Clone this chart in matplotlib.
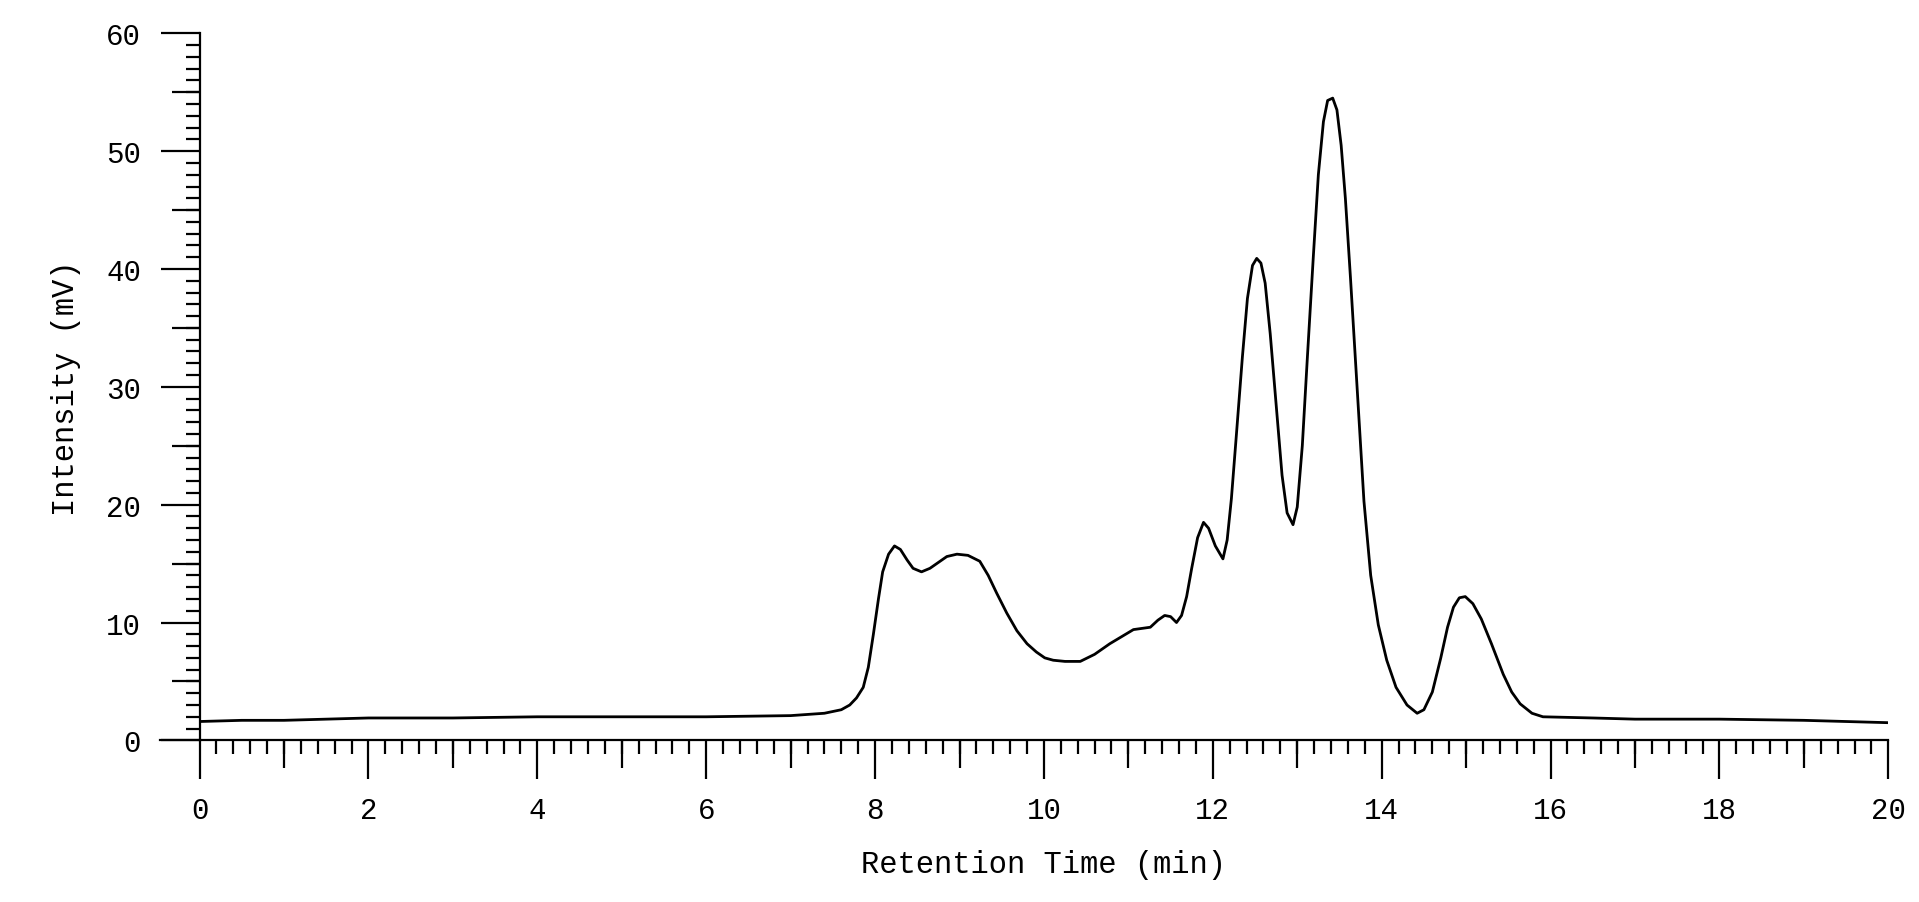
import matplotlib.pyplot as plt
from matplotlib.ticker import MultipleLocator, FixedLocator

# Chromatogram trace (min, mV)
time_min = [
    0.0, 0.5, 1.0, 1.5, 2.0, 3.0, 4.0, 5.0, 6.0, 7.0, 7.4, 7.6, 7.7, 7.78,
    7.86, 7.92, 7.98, 8.04, 8.09, 8.16, 8.23, 8.3, 8.38, 8.45, 8.55, 8.65,
    8.75, 8.85, 8.97, 9.1, 9.24, 9.34, 9.44, 9.56, 9.68, 9.8, 9.91, 10.01,
    10.11, 10.25, 10.43, 10.6, 10.78, 10.92, 11.06, 11.26, 11.35, 11.43,
    11.5, 11.57, 11.63, 11.69, 11.75, 11.82, 11.89, 11.95, 12.03, 12.12,
    12.17, 12.22, 12.28, 12.35, 12.41, 12.47, 12.52, 12.57, 12.62, 12.68,
    12.75, 12.82, 12.88, 12.95, 13.0, 13.06, 13.12, 13.19, 13.25, 13.31,
    13.36, 13.42, 13.47, 13.52, 13.57, 13.63, 13.7, 13.79, 13.87, 13.96,
    14.06, 14.17, 14.3, 14.42, 14.5, 14.6, 14.7, 14.78, 14.85, 14.92,
    14.99, 15.08, 15.18, 15.3, 15.44, 15.54, 15.64, 15.78, 15.91, 16.5,
    17.0, 18.0, 19.0, 19.5, 20.0,
]
intensity_mv = [
    1.6, 1.7, 1.7, 1.8, 1.9, 1.9, 2.0, 2.0, 2.0, 2.1, 2.3, 2.6, 3.0, 3.6,
    4.5, 6.2, 9.0, 12.0, 14.3, 15.8, 16.5, 16.2, 15.3, 14.6, 14.3, 14.6,
    15.1, 15.6, 15.8, 15.7, 15.2, 14.0, 12.5, 10.8, 9.3, 8.2, 7.5, 7.0,
    6.8, 6.7, 6.7, 7.3, 8.2, 8.8, 9.4, 9.6, 10.2, 10.6, 10.5, 10.0, 10.6,
    12.2, 14.6, 17.2, 18.5, 18.0, 16.5, 15.4, 17.0, 20.5, 26.0, 32.5, 37.5,
    40.3, 40.9, 40.5, 38.8, 34.5, 28.5, 22.5, 19.3, 18.3, 19.8, 25.0, 32.5,
    41.0, 48.0, 52.5, 54.3, 54.5, 53.5, 50.5, 46.0, 39.3, 31.0, 20.3, 14.0,
    9.8, 6.8, 4.5, 3.0, 2.3, 2.6, 4.1, 7.0, 9.6, 11.3, 12.1, 12.2, 11.6,
    10.3, 8.2, 5.6, 4.1, 3.1, 2.3, 2.0, 1.9, 1.8, 1.8, 1.7, 1.6, 1.5,
]

plt.rcParams["font.family"] = ["Liberation Mono", "DejaVu Sans Mono"]

fig = plt.figure(figsize=(19.19, 9.03), dpi=100)
ax = fig.add_axes([0.104, 0.179, 0.880, 0.783])

ax.plot(time_min, intensity_mv, color="black", linewidth=2.0)

ax.set_xlim(0, 20)
ax.set_ylim(0, 60)
ax.spines["top"].set_visible(False)
ax.spines["right"].set_visible(False)
ax.spines["left"].set_linewidth(1.6)
ax.spines["bottom"].set_linewidth(1.6)
# bottom axis line runs a little past the y axis
ax.plot([-0.47, 0], [0, 0], color="black", linewidth=1.6, clip_on=False)

ax.xaxis.set_major_locator(MultipleLocator(2))
ax.xaxis.set_minor_locator(MultipleLocator(0.2))
ax.yaxis.set_major_locator(MultipleLocator(10))
ax.yaxis.set_minor_locator(MultipleLocator(1))
ax.tick_params(axis="x", which="major", direction="out", length=28, width=1.6,
               pad=12, labelsize=21)
ax.tick_params(axis="y", which="major", direction="out", length=28, width=1.6,
               pad=14, labelsize=21)
ax.tick_params(which="minor", direction="out", length=10, width=1.6)

# medium ticks at odd minutes and at every 5 mV
secx = ax.secondary_xaxis("bottom")
secx.xaxis.set_major_locator(FixedLocator(range(1, 20, 2)))
secx.tick_params(length=20, width=1.6, labelbottom=False)
secx.spines["bottom"].set_visible(False)
secy = ax.secondary_yaxis("left")
secy.yaxis.set_major_locator(FixedLocator(range(5, 60, 10)))
secy.tick_params(length=20, width=1.6, labelleft=False)
secy.spines["left"].set_visible(False)

ax.set_xlabel("Retention Time (min)", fontsize=22, labelpad=18)
ax.set_ylabel("Intensity (mV)", fontsize=22, labelpad=18)

plt.savefig("out.png", dpi=100)
